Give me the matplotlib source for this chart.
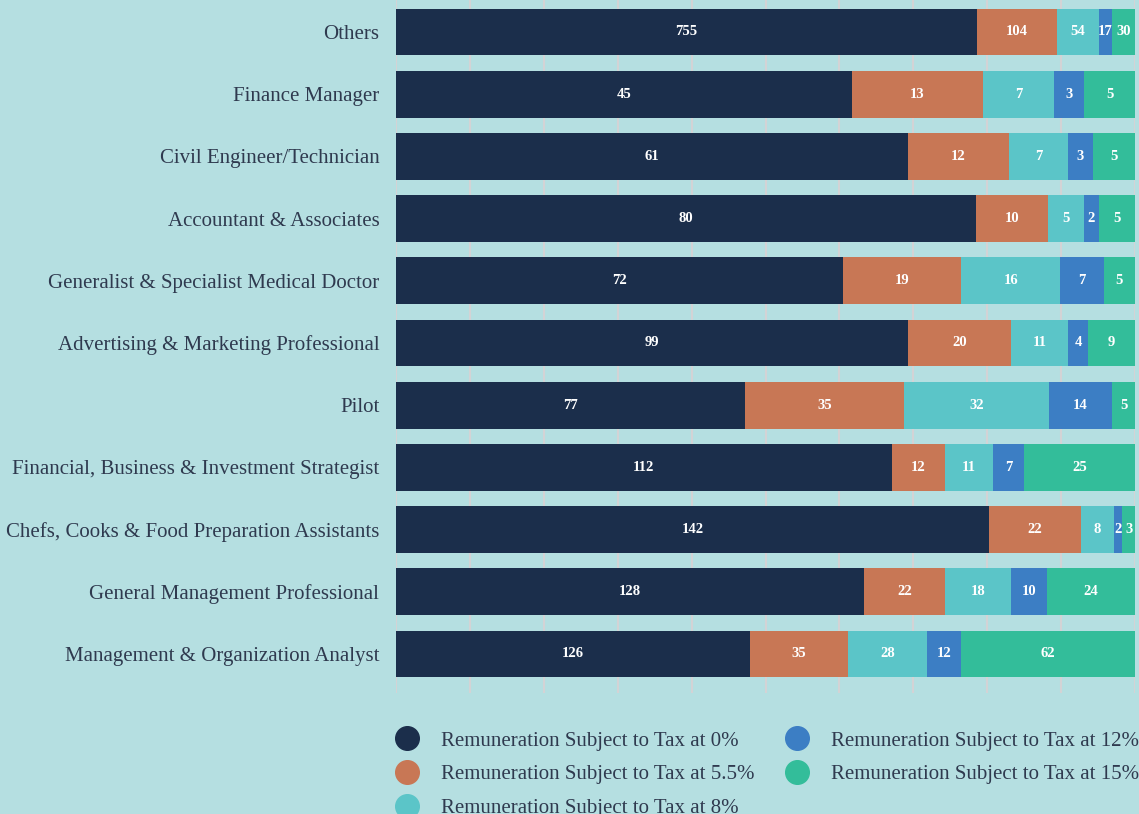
import matplotlib
matplotlib.use("Agg")
import matplotlib.pyplot as plt
from matplotlib.lines import Line2D
import numpy as np

categories = ["Others", "Finance Manager", "Civil Engineer/Technician",
              "Accountant & Associates", "Generalist & Specialist Medical Doctor",
              "Advertising & Marketing Professional", "Pilot",
              "Financial, Business & Investment Strategist",
              "Chefs, Cooks & Food Preparation Assistants",
              "General Management Professional", "Management & Organization Analyst"]
tax_0 = [755, 45, 61, 80, 72, 99, 77, 112, 142, 128, 126]
tax_5_5 = [104, 13, 12, 10, 19, 20, 35, 12, 22, 22, 35]
tax_8 = [54, 7, 7, 5, 16, 11, 32, 11, 8, 18, 28]
tax_12 = [17, 3, 3, 2, 7, 4, 14, 7, 2, 10, 12]
tax_15 = [30, 5, 5, 5, 5, 9, 5, 25, 3, 24, 62]
series_names = ["Remuneration Subject to Tax at 0%", "Remuneration Subject to Tax at 5.5%",
                "Remuneration Subject to Tax at 8%", "Remuneration Subject to Tax at 12%",
                "Remuneration Subject to Tax at 15%"]
colors = ["#1b2e4b", "#c87755", "#5bc5c8", "#3c7ec4", "#33bd9a"]

bg = "#b5dfe1"
txt = "#2f3a4f"
plt.rcParams['font.family'] = ["Liberation Serif", "DejaVu Serif"]

fig = plt.figure(figsize=(11.39, 8.14), dpi=100, facecolor=bg)
ax = fig.add_axes([396/1139, (814-693)/814, (1135-396)/1139, 693/814])
ax.set_facecolor(bg)

series = [tax_0, tax_5_5, tax_8, tax_12, tax_15]
data = np.array(series, dtype=float)
totals = data.sum(axis=0)
pct = data / totals * 100
y = np.arange(len(categories))
left = np.zeros(len(categories))
for i, (vals, c) in enumerate(zip(series, colors)):
    ax.barh(y, pct[i], left=left, height=0.75, color=c, zorder=3)
    for j in range(len(categories)):
        ax.text(left[j] + pct[i][j] / 2, y[j], str(vals[j]), ha="center", va="center",
                color="white", fontsize=10.5, fontweight="bold", zorder=4)
    left += pct[i]

ax.set_xlim(0, 100)
ax.set_ylim(10.627, -0.514)
ax.set_xticks(np.arange(0, 101, 10))
ax.xaxis.grid(True, color="#d3d3d5", linewidth=1.5, zorder=0)
ax.tick_params(axis="x", length=0, labelbottom=False)
ax.tick_params(axis="y", length=0, pad=12, labelsize=15, labelcolor=txt)
ax.set_yticks(y)
ax.set_yticklabels(categories)
for s in ax.spines.values():
    s.set_visible(False)

handles = [Line2D([0], [0], marker="o", linestyle="none", markersize=17,
                  markerfacecolor=c, markeredgecolor=c) for c in colors]
fig.legend(handles, series_names, loc="upper left", bbox_to_anchor=(386/1139, 1 - 731/814),
           ncol=2, frameon=False, fontsize=15, labelcolor=txt, handletextpad=0.63,
           columnspacing=1.05, labelspacing=0.68, borderaxespad=0, borderpad=0)

fig.savefig("out.png", dpi=100, facecolor=bg)
